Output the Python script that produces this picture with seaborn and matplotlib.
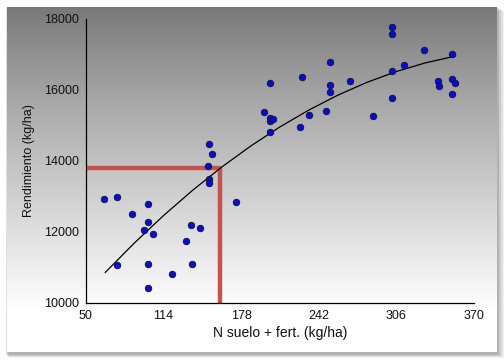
import numpy as np
import pandas as pd
import matplotlib
matplotlib.use("Agg")
import matplotlib.pyplot as plt
from matplotlib.patches import Rectangle
import seaborn as sns

# ---- data ----
n_kg = [65.4, 76.1, 76.1, 87.9, 101.1, 101.1, 98.3, 105.5, 101.1, 101.1,
        120.9, 132.7, 136.8, 144.2, 137.9, 151.4, 154.1, 150.5, 151.4, 151.4,
        173.9, 201.6, 197.0, 201.6, 201.6, 204.1, 201.6, 226.6, 228.3, 233.8,
        248.3, 251.6, 251.6, 251.6, 267.8, 286.8, 302.2, 302.2, 302.2, 302.2,
        312.6, 328.8, 340.4, 341.5, 352.2, 352.2, 354.6, 352.2]
rend = [12923, 12970, 11072, 12491, 12782, 12275, 12040, 11927, 11100, 10404,
        10808, 11739, 12200, 12115, 11100, 14474, 14202, 13863, 13478, 13365,
        12839, 16185, 15377, 15217, 15123, 15170, 14813, 14954, 16373, 15302,
        15405, 16796, 16138, 15941, 16260, 15255, 17783, 17576, 16533, 15781,
        16693, 17125, 16242, 16110, 17012, 16317, 16185, 15894]

curve_x = [66, 90, 114, 138, 162, 186, 210, 234, 258, 282, 306, 330, 355]
curve_y = [10849, 11680, 12453, 13167, 13822, 14418, 14956, 15435, 15856,
           16217, 16519, 16764, 16956]

ref_x = [50, 160.7, 160.7]
ref_y = [13800, 13800, 10000]

x_ticks = [50, 114, 178, 242, 306, 370]
y_ticks = [10000, 12000, 14000, 16000, 18000]

df = pd.DataFrame({"N": n_kg, "R": rend})
cdf = pd.DataFrame({"x": curve_x, "y": curve_y})
rdf = pd.DataFrame({"x": ref_x, "y": ref_y})

sns.set_theme(style="white")
plt.rcParams["font.family"] = ["Liberation Sans", "DejaVu Sans"]

W, H = 504, 361
fig = plt.figure(figsize=(W / 100, H / 100), dpi=100)
fig.patch.set_facecolor("white")

# panel shadow (behind) + gradient background
px0, py0, px1, py1 = 7, 7, 497, 352
for i, a in enumerate([0.05, 0.07, 0.09, 0.12]):
    off = 6 - i
    fig.patches.append(Rectangle(((px0 + 2 - i) / W, 1 - (py1 + off) / H),
                                 (px1 - px0 + off) / W, (py1 - py0 + 2) / H,
                                 transform=fig.transFigure, facecolor="black",
                                 alpha=a, edgecolor="none", zorder=-10))
bg = fig.add_axes([px0 / W, 1 - py1 / H, (px1 - px0) / W, (py1 - py0) / H], zorder=0)
grad = np.linspace(0, 1, 256)
top = np.array([0.47, 0.47, 0.47])
bot = np.array([1.0, 1.0, 1.0])
t = np.clip(grad / 0.88, 0, 1) ** 0.9
cols = top[None, :] * (1 - t[:, None]) + bot[None, :] * t[:, None]
img = np.repeat(cols[:, None, :], 2, axis=1)
bg.imshow(img, aspect="auto", extent=[0, 1, 0, 1], origin="upper")
bg.set_xlim(0, 1)
bg.set_ylim(0, 1)
bg.set_axis_off()

ax = fig.add_axes([85.7 / W, 1 - 302.7 / H, (474 - 85.7) / W, (302.7 - 19) / H], zorder=1)
ax.set_facecolor("none")

sns.lineplot(data=rdf, x="x", y="y", ax=ax, color="#c6524e", lw=3.2,
             sort=False, estimator=None, zorder=2)
sns.lineplot(data=cdf, x="x", y="y", ax=ax, color="black", lw=0.9,
             estimator=None, zorder=3)
sns.scatterplot(data=df, x="N", y="R", ax=ax, color="#0a0ad2", edgecolor="#101040",
                linewidth=0.6, s=22, zorder=4)

ax.set_xlim(50, 370)
ax.set_ylim(10000, 18000)
ax.set_xticks(x_ticks)
ax.set_yticks(y_ticks)
ax.set_xticklabels([str(v) for v in x_ticks])
ax.set_yticklabels([str(v) for v in y_ticks])
for s in ["top", "right"]:
    ax.spines[s].set_visible(False)
for s in ["left", "bottom"]:
    ax.spines[s].set_color("black")
    ax.spines[s].set_linewidth(0.9)
ax.tick_params(axis="both", which="major", direction="out", length=3, width=0.9,
               color="black", labelsize=9, labelcolor="#111111", pad=2)
ax.set_xlabel("N suelo + fert. (kg/ha)", fontsize=10, color="#111111", labelpad=3)
ax.set_ylabel("Rendimiento (kg/ha)", fontsize=9, color="#111111", labelpad=6)
ax.grid(False)

fig.savefig("out.png", dpi=100, facecolor="white")
